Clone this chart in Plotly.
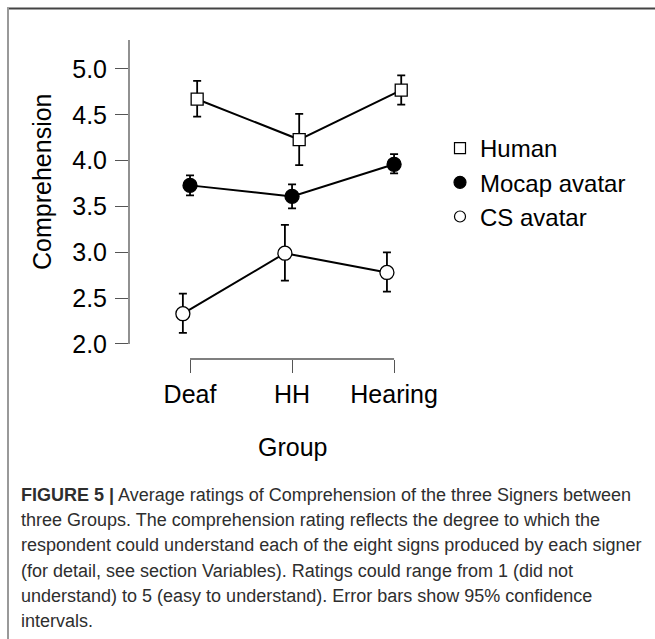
import plotly.graph_objects as go

# ---- data ----
groups = ["Deaf", "HH", "Hearing"]
signers = ["Human", "Mocap avatar", "CS avatar"]

human_mean = [4.67, 4.23, 4.77]
human_lo = [4.48, 3.95, 4.61]
human_hi = [4.87, 4.51, 4.93]

mocap_mean = [3.73, 3.61, 3.96]
mocap_lo = [3.62, 3.48, 3.86]
mocap_hi = [3.84, 3.74, 4.07]

cs_mean = [2.33, 2.99, 2.78]
cs_lo = [2.12, 2.69, 2.57]
cs_hi = [2.55, 3.30, 3.00]

y_ticks = [2.0, 2.5, 3.0, 3.5, 4.0, 4.5, 5.0]

caption_lines = [
    "<b>FIGURE 5 |</b> Average ratings of Comprehension of the three Signers between",
    "three Groups. The comprehension rating reflects the degree to which the",
    "respondent could understand each of the eight signs produced by each signer",
    "(for detail, see section Variables). Ratings could range from 1 (did not",
    "understand) to 5 (easy to understand). Error bars show 95% confidence",
    "intervals.",
]

# ---- layout geometry ----
W, H = 655, 639
L, R, T, B = 129, 215, 40, 280
PW, PH = W - L - R, H - T - B
X_RANGE = [-0.598, 2.45]
Y_RANGE = [1.836, 5.316]
FONT = "Liberation Sans, Arial, sans-serif"


def px(xp):
    return (xp - L) / PW


def py(yp):
    return (H - B - yp) / PH


styles = {
    "Human": dict(symbol="square", size=12, color="white", line=dict(color="black", width=1.3)),
    "Mocap avatar": dict(symbol="circle", size=14, color="black", line=dict(color="black", width=1.3)),
    "CS avatar": dict(symbol="circle", size=14, color="white", line=dict(color="black", width=1.3)),
}
legend_styles = {
    "Human": dict(symbol="square", size=11, color="white", line=dict(color="black", width=1.2)),
    "Mocap avatar": dict(symbol="circle", size=12, color="black", line=dict(color="black", width=1.2)),
    "CS avatar": dict(symbol="circle", size=11, color="white", line=dict(color="black", width=1.2)),
}
dodge = {"Human": 0.07, "Mocap avatar": 0.0, "CS avatar": -0.07}
series = {
    "Human": (human_mean, human_lo, human_hi),
    "Mocap avatar": (mocap_mean, mocap_lo, mocap_hi),
    "CS avatar": (cs_mean, cs_lo, cs_hi),
}

fig = go.Figure()
for name in signers:
    mean, lo, hi = series[name]
    xs = [i + dodge[name] for i in range(len(groups))]
    fig.add_trace(go.Scatter(
        x=xs, y=mean, mode="lines+markers", showlegend=False,
        line=dict(color="black", width=2),
        marker=styles[name],
        error_y=dict(type="data", symmetric=False,
                     array=[h - m for h, m in zip(hi, mean)],
                     arrayminus=[m - l for m, l in zip(mean, lo)],
                     color="black", thickness=1.8, width=4),
    ))
for name in signers:
    fig.add_trace(go.Scatter(x=[None], y=[None], mode="markers", name=name,
                             marker=legend_styles[name], showlegend=True))

shapes = [
    # axis lines (R style)
    dict(type="line", xref="paper", yref="y", x0=0, x1=0, y0=y_ticks[0], y1=Y_RANGE[1],
         line=dict(color="#555", width=1.3)),
    dict(type="line", xref="x", yref="paper", x0=0, x1=len(groups) - 1, y0=0, y1=0,
         line=dict(color="#555", width=1.3)),
    # frame lines
    dict(type="line", xref="paper", yref="paper", x0=px(7), x1=px(655), y0=py(8.5), y1=py(8.5),
         line=dict(color="#444", width=2)),
    dict(type="line", xref="paper", yref="paper", x0=px(8), x1=px(8), y0=py(8), y1=py(639),
         line=dict(color="#999", width=2)),
]

annotations = [
    dict(text="Comprehension", xref="paper", yref="paper", x=px(42), y=py(182),
         textangle=-90, showarrow=False, xanchor="center", yanchor="middle",
         font=dict(family=FONT, size=25, color="black")),
    dict(text="Group", xref="paper", yref="paper", x=px(292), y=py(447),
         showarrow=False, xanchor="center", yanchor="middle",
         font=dict(family=FONT, size=25, color="black")),
]
for k, line in enumerate(caption_lines):
    annotations.append(dict(
        text=line, xref="paper", yref="paper", x=px(19), y=py(495 + 25.2 * k),
        showarrow=False, xanchor="left", yanchor="middle", align="left",
        font=dict(family=FONT, size=18, color="#2e2e2e")))

fig.update_layout(
    width=W, height=H, autosize=False,
    margin=dict(l=L, r=R, t=T, b=B, pad=0, autoexpand=False),
    paper_bgcolor="white", plot_bgcolor="white",
    font=dict(family=FONT, color="black"),
    xaxis=dict(range=X_RANGE, tickmode="array", tickvals=list(range(len(groups))), ticktext=groups,
               ticks="outside", ticklen=13, tickwidth=1.3, tickcolor="#555",
               showline=False, showgrid=False, zeroline=False,
               tickfont=dict(family=FONT, size=25, color="black")),
    yaxis=dict(range=Y_RANGE, tickmode="array", tickvals=y_ticks,
               ticktext=[f"{v:.1f}" for v in y_ticks],
               ticks="outside", ticklen=13, tickwidth=1.3, tickcolor="#555",
               ticklabelstandoff=3,
               showline=False, showgrid=False, zeroline=False,
               tickfont=dict(family=FONT, size=25, color="black")),
    legend=dict(xref="container", yref="container", x=440 / W, y=1 - 126 / H,
                xanchor="left", yanchor="top", bgcolor="rgba(0,0,0,0)",
                font=dict(family=FONT, size=24, color="black"), tracegroupgap=0),
    shapes=shapes, annotations=annotations,
)

fig.write_html(
    "out.html", config={"displayModeBar": False},
    post_script=("document.body.style.margin='0';"
                 "document.body.style.overflow='hidden';"
                 "document.documentElement.style.overflow='hidden';"),
)
